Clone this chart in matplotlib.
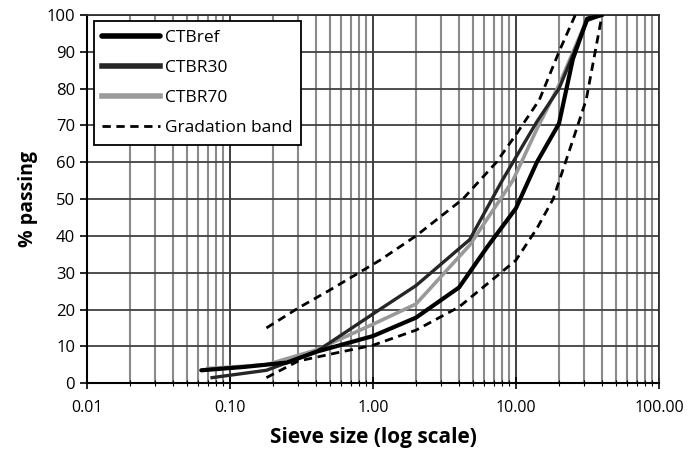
import matplotlib.pyplot as plt
from matplotlib.ticker import FixedLocator, FormatStrFormatter, LogLocator, NullFormatter

plt.rcParams['font.family'] = ['Open Sans', 'DejaVu Sans']

# sieve sizes (mm) and % passing
ref_size = [0.063, 0.125, 0.25, 0.4, 1, 2, 4, 6.3, 10, 14, 20, 25, 31.5, 40]
ref_pass = [3.5, 4.4, 5.6, 8.5, 12.8, 17.8, 26, 37, 47.5, 60, 70.5, 88, 99, 100]

r30_size = [0.075, 0.18, 0.4, 1, 2, 4.75, 8, 14, 20, 31.5, 40]
r30_pass = [1.5, 3.5, 8.5, 18.8, 26.5, 39, 55, 71, 80, 98.5, 100]

r70_size = [0.07, 0.18, 0.4, 1, 2, 4.75, 9.5, 14, 20, 31.5, 40]
r70_pass = [4, 5, 9, 16, 21.5, 37.5, 55, 69, 81, 99, 100]

band_up_size = [0.18, 0.3, 0.5, 1.12, 2, 4.25, 7.3, 10, 14.6, 20, 26]
band_up_pass = [15, 20.4, 25.3, 33.4, 40, 50, 60, 67.5, 77, 90, 100]

band_lo_size = [0.18, 0.3, 0.6, 1, 2, 4, 7.3, 10, 14, 18.2, 25, 31, 40]
band_lo_pass = [1.5, 6, 8.5, 10.3, 14.4, 20.7, 29, 33.4, 42, 50, 66, 77, 100]

fig = plt.figure(figsize=(6.9, 4.54), dpi=100)
ax = fig.add_axes([0.126, 0.156, 0.829, 0.811])

ax.plot(ref_size, ref_pass, color='black', lw=3.0, label='CTBref', solid_capstyle='round', zorder=5)
ax.plot(r30_size, r30_pass, color='#262626', lw=2.4, label='CTBR30', zorder=4)
ax.plot(r70_size, r70_pass, color='#999999', lw=2.6, label='CTBR70', zorder=3)
ax.plot(band_up_size, band_up_pass, color='black', lw=2.0, ls=(0, (3, 2)), label='Gradation band', zorder=6)
ax.plot(band_lo_size, band_lo_pass, color='black', lw=2.0, ls=(0, (3, 2)), zorder=6)

ax.set_xscale('log')
ax.set_xlim(0.01, 100)
ax.set_ylim(0, 100)
ax.xaxis.set_major_locator(FixedLocator([0.01, 0.1, 1, 10, 100]))
ax.xaxis.set_major_formatter(FormatStrFormatter('%.2f'))
ax.xaxis.set_minor_locator(LogLocator(base=10, subs=range(2, 10)))
ax.xaxis.set_minor_formatter(NullFormatter())
ax.set_yticks(range(0, 101, 10))

ax.grid(True, which='major', axis='x', color='#303030', lw=1.3)
ax.grid(True, which='minor', axis='x', color='#8a8a8a', lw=1.5)
ax.grid(True, which='major', axis='y', color='#404040', lw=1.3)
ax.set_axisbelow(True)

for s in ax.spines.values():
    s.set_color('#303030')
    s.set_linewidth(1.3)
ax.spines['left'].set_color('black')
ax.spines['bottom'].set_color('black')
ax.spines['left'].set_linewidth(1.5)
ax.spines['bottom'].set_linewidth(1.5)

ax.tick_params(axis='x', which='major', direction='inout', length=8, width=1.2, labelsize=11.5, pad=8)
ax.tick_params(axis='x', which='minor', direction='inout', length=5, width=0.8)
ax.tick_params(axis='y', which='major', direction='out', length=5, width=1.2, labelsize=12)

ax.set_xlabel('Sieve size (log scale)', fontsize=15, fontweight='bold', labelpad=8)
ax.set_ylabel('% passing', fontsize=14, fontweight='bold', labelpad=6)

leg = ax.legend(loc='upper left', bbox_to_anchor=(0.012, 0.983), fontsize=12.5, frameon=True,
                fancybox=False, edgecolor='black', framealpha=1, handlelength=3.3,
                handletextpad=0.3, borderpad=0.5, labelspacing=0.8, borderaxespad=0)
leg.get_frame().set_linewidth(1.3)
for h in leg.get_lines()[:3]:
    h.set_linewidth(4)

plt.savefig('out.png', dpi=100)
